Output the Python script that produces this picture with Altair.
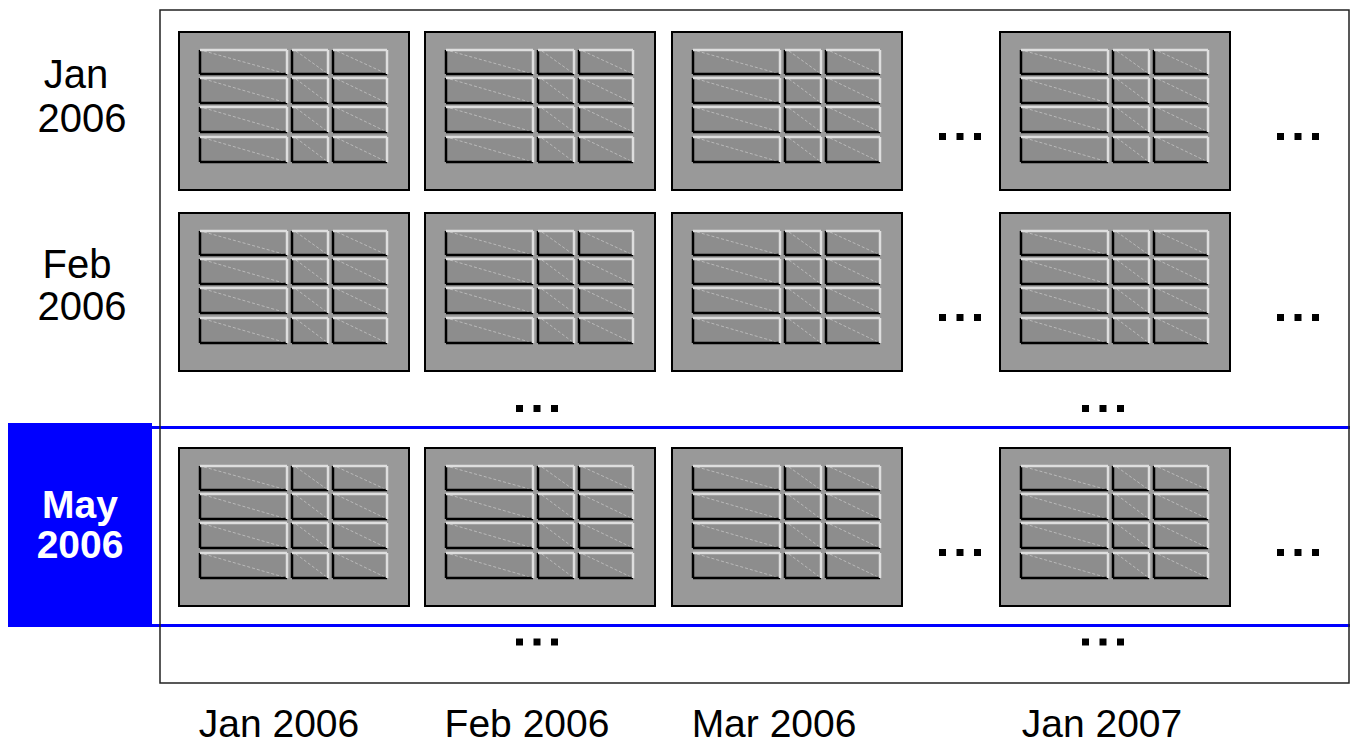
import altair as alt
import pandas as pd

# ---------------- content ----------------
col_labels = ["Jan 2006", "Feb 2006", "Mar 2006", "Jan 2007"]
row_months = ["Jan", "Feb", "May"]
row_years = ["2006", "2006", "2006"]
highlight_row = "May"

# ---------------- layout (reference pixel units) ----------------
XD = [8, 1350]
YD = [8, 747]
W, H = XD[1] - XD[0], YD[1] - YD[0]

col_left = [179, 425, 672, 1000]
row_top = [32, 213, 448]
PANEL_W, PANEL_H = 230, 158
cell_x = [(21, 108), (113, 149), (154, 208)]
cell_y = [(18, 42), (46, 71), (75, 100), (105, 130)]

col_label_x = [279, 527, 774, 1102]
col_label_y = 737
row_label_x = [(76, 82), (77, 82), (80, 80)]
row_label_y = [(88, 132), (278, 320), (518, 558)]

xs = alt.Scale(domain=XD, nice=False, zero=False)
ys = alt.Scale(domain=YD, nice=False, zero=False, reverse=True)


def X(f):
    return alt.X(f, type="quantitative", scale=xs, axis=None)


def Y(f):
    return alt.Y(f, type="quantitative", scale=ys, axis=None)


def X2(f):
    return alt.X2(f)


def Y2(f):
    return alt.Y2(f)


# panels, cells, edges
panels, cells, diag, dark, light = [], [], [], [], []
for r in row_top:
    for c in col_left:
        panels.append(dict(x=c, x2=c + PANEL_W, y=r, y2=r + PANEL_H))
        for (a, b) in cell_x:
            for (t, u) in cell_y:
                x1, x2, y1, y2 = c + a, c + b, r + t, r + u
                cells.append(dict(x=x1, x2=x2, y=y1, y2=y2))
                diag.append(dict(x=x1 + 4, x2=x2, y=y1 + 1, y2=y2))
                dark.append(dict(x=x1, x2=x1, y=y1, y2=y2))
                dark.append(dict(x=x1, x2=x2, y=y2, y2=y2))
                light.append(dict(x=x1, x2=x2, y=y1, y2=y1))
                light.append(dict(x=x2, x2=x2, y=y1, y2=y2))

dot_dx = [-17.5, 0, 17.5]
h_ell_x = [960, 1298]
h_ell_y = [r + 104.5 for r in row_top]
v_ell_x = [537, 1103]
v_ell_y = [408.5, 642]
dots = []
for yy in h_ell_y:
    for xx in h_ell_x:
        for d in dot_dx:
            dots.append(dict(x=xx + d, y=yy))
for yy in v_ell_y:
    for xx in v_ell_x:
        for d in dot_dx:
            dots.append(dict(x=xx + d, y=yy))

frame = pd.DataFrame([dict(x=160, x2=min(1353, XD[1] - 1), y=10, y2=683)])
blue_box = pd.DataFrame([dict(x=XD[0], x2=152, y=423, y2=627)])
blue_lines = pd.DataFrame([dict(x=152, x2=XD[1], y=427.5), dict(x=152, x2=XD[1], y=625.5)])

texts_norm, texts_bold = [], []
for i, (m, yr) in enumerate(zip(row_months, row_years)):
    target = texts_bold if m == highlight_row else texts_norm
    target.append(dict(t=m, x=row_label_x[i][0], y=row_label_y[i][0]))
    target.append(dict(t=yr, x=row_label_x[i][1], y=row_label_y[i][1]))
col_texts = [dict(t=l, x=col_label_x[i], y=col_label_y) for i, l in enumerate(col_labels)]


def rect_layer(data, **mk):
    return alt.Chart(pd.DataFrame(data)).mark_rect(**mk).encode(
        x=X("x"), x2=X2("x2"), y=Y("y"), y2=Y2("y2"))


def rule_layer(data, **mk):
    return alt.Chart(pd.DataFrame(data)).mark_rule(**mk).encode(
        x=X("x"), x2=X2("x2"), y=Y("y"), y2=Y2("y2"))


layers = [
    rect_layer(blue_box, fill="#0000ff"),
    alt.Chart(blue_lines).mark_rule(color="#0000ff", strokeWidth=3).encode(
        x=X("x"), x2=X2("x2"), y=Y("y")),
    rect_layer(frame, fill="white", fillOpacity=0, stroke="#222222", strokeWidth=1.5),
    rect_layer(panels, fill="#999999", stroke="#000000", strokeWidth=2),
    rect_layer(cells, fill="#8d8d8d"),
    rule_layer(diag, color="#c4c4c4", strokeWidth=0.8, strokeDash=[3, 2]),
    rule_layer(dark, color="#000000", strokeWidth=2.5),
    rule_layer(light, color="#dedede", strokeWidth=2.5),
    alt.Chart(pd.DataFrame(dots)).mark_square(size=49, color="#000000", opacity=1).encode(
        x=X("x"), y=Y("y")),
    alt.Chart(pd.DataFrame(texts_norm)).mark_text(
        font="Liberation Sans", fontSize=40, color="#000000", align="center", baseline="alphabetic"
    ).encode(x=X("x"), y=Y("y"), text="t:N"),
    alt.Chart(pd.DataFrame(texts_bold)).mark_text(
        font="Liberation Sans", fontSize=39, fontWeight="bold", color="#ffffff", align="center",
        baseline="alphabetic"
    ).encode(x=X("x"), y=Y("y"), text="t:N"),
    alt.Chart(pd.DataFrame(col_texts)).mark_text(
        font="Liberation Sans", fontSize=39, color="#000000", align="center", baseline="alphabetic"
    ).encode(x=X("x"), y=Y("y"), text="t:N"),
]

chart = alt.layer(*layers).properties(
    width=W, height=H, padding=0, autosize=alt.AutoSizeParams(type="none")
).configure_view(strokeWidth=0)

chart.save("out.html", embed_options={"renderer": "svg", "actions": False})
